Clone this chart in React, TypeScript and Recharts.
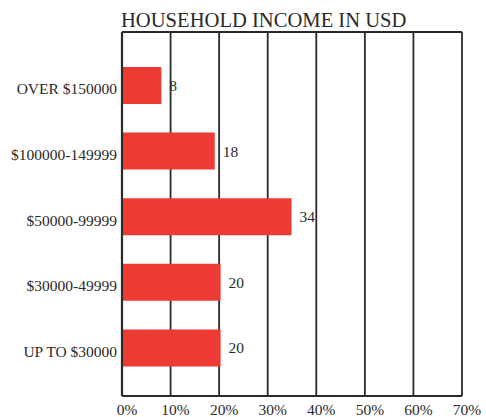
import React from 'react';
import { BarChart, Bar, XAxis, YAxis, CartesianGrid, LabelList } from 'recharts';

// income brackets, top to bottom
const categories = ['OVER $150000', '$100000-149999', '$50000-99999', '$30000-49999', 'UP TO $30000'];
// bar lengths as drawn (percent)
const shares = [8.1, 19.1, 34.9, 20.3, 20.3];
// numbers printed next to the bars
const printed = ['8', '18', '34', '20', '20'];
const xTicks = [0, 10, 20, 30, 40, 50, 60, 70];

const data = categories.map((name, i) => ({ name, value: shares[i], label: printed[i] }));

const FONT = '"Liberation Serif", "Times New Roman", serif';
const INK = '#2a2a2a';

const App: React.FC = () => {
  return (
    <div style={{ position: 'absolute', left: 0, top: 0, width: 486, height: 417, background: '#fff' }}>
      <div
        style={{
          position: 'absolute',
          left: 121,
          top: 10,
          fontFamily: FONT,
          fontSize: 20.6,
          lineHeight: '20px',
          color: INK,
          whiteSpace: 'nowrap',
        }}
      >
        HOUSEHOLD INCOME IN USD
      </div>
      <BarChart
        width={486}
        height={417}
        data={data}
        layout="vertical"
        margin={{ top: 32, right: 24, bottom: 0, left: 0 }}
      >
        {/* frame: vertical grid plus top and bottom edges */}
        <CartesianGrid
          vertical
          horizontal
          horizontalCoordinatesGenerator={(props: any) => [props.offset.top, props.offset.top + props.offset.height]}
          stroke={INK}
          strokeWidth={1.8}
        />
        <XAxis
          type="number"
          domain={[0, 70]}
          ticks={xTicks}
          tickFormatter={(v: number) => `${v}%`}
          tickLine={false}
          axisLine={{ stroke: INK, strokeWidth: 2.2 }}
          tick={{ fill: INK, fontSize: 15.5, fontFamily: FONT, dx: 5 }}
          height={21}
          interval={0}
        />
        <YAxis
          type="category"
          dataKey="name"
          width={122}
          padding={{ top: 21, bottom: 15 }}
          tickLine={false}
          axisLine={{ stroke: INK, strokeWidth: 2.2 }}
          tick={{ fill: INK, fontSize: 15.5, fontFamily: FONT, dx: 3, dy: 3 }}
          interval={0}
        />
        <Bar dataKey="value" fill="#ec3b33" barSize={37} isAnimationActive={false}>
          <LabelList
            dataKey="label"
            position="right"
            offset={8}
            fill={INK}
            fontSize={15.5}
            fontFamily={FONT}
          />
        </Bar>
      </BarChart>
    </div>
  );
};

export default App;
